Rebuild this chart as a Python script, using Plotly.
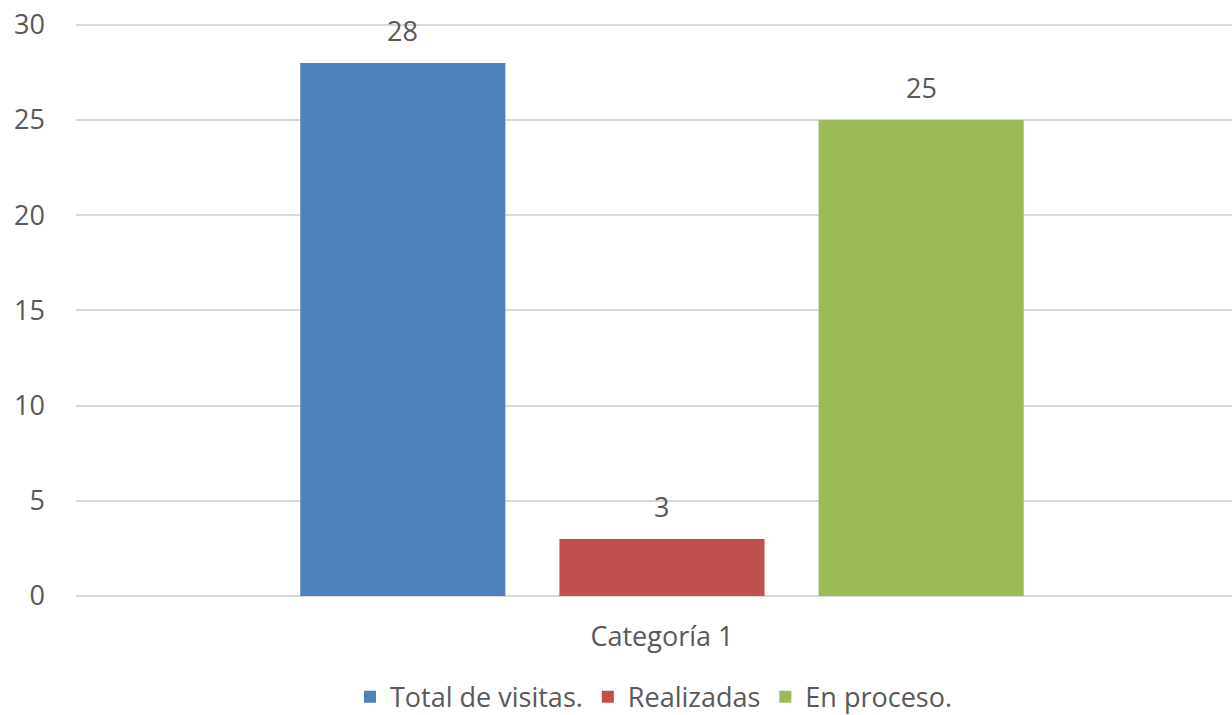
import plotly.graph_objects as go

categories = ["Categoría 1"]
series_names = ["Total de visitas.", "Realizadas", "En proceso."]
series_values = [[28], [3], [25]]
colors = ["#4F81BD", "#C0504D", "#9BBB59"]
y_ticks = [0, 5, 10, 15, 20, 25, 30]

FONT = "Open Sans"
GREY = "#595959"
FS = 27

fig = go.Figure()
for name, vals, col in zip(series_names, series_values, colors):
    fig.add_trace(go.Bar(
        x=categories, y=vals, name=name, marker=dict(color=col, line=dict(width=0)),
    ))

# data labels above bars
n = len(series_names)
for i, (name, vals) in enumerate(zip(series_names, series_values)):
    for c, v in zip(categories, vals):
        fig.add_annotation(x=c, y=v, text=str(v), showarrow=False, yanchor="bottom",
                           yshift=12, xshift=(i - (n - 1) / 2) * 259.5,
                           font=dict(family=FONT, size=FS, color=GREY))

fig.update_layout(
    width=1232, height=715,
    margin=dict(l=76, r=0, t=21, b=119, autoexpand=False),
    paper_bgcolor="white", plot_bgcolor="white",
    barmode="group", bargap=0.318, bargroupgap=0.2085,
    font=dict(family=FONT, size=FS, color=GREY),
    legend=dict(orientation="h", x=0.5, xanchor="center", y=-0.176, yanchor="middle",
                font=dict(family=FONT, size=FS, color=GREY), itemwidth=30,
                traceorder="normal"),
    showlegend=True,
)
fig.update_xaxes(type="category", range=[-0.514, 0.5], showgrid=False, showline=False,
                 ticks="", automargin=False, ticklabelstandoff=22,
                 tickfont=dict(family=FONT, size=FS, color=GREY))
fig.update_yaxes(range=[0, 30.2], tickvals=y_ticks, showgrid=True, gridcolor="#D9D9D9",
                 gridwidth=1.5, zeroline=True, zerolinecolor="#D9D9D9", zerolinewidth=1.5,
                 showline=False, ticks="", automargin=False, ticklabelstandoff=30,
                 ticklabeloverflow="allow",
                 tickfont=dict(family=FONT, size=FS, color=GREY))
fig.write_html("out.html", config={"displayModeBar": False},
               post_script="document.body.style.margin='0';document.body.style.overflow='hidden';")
